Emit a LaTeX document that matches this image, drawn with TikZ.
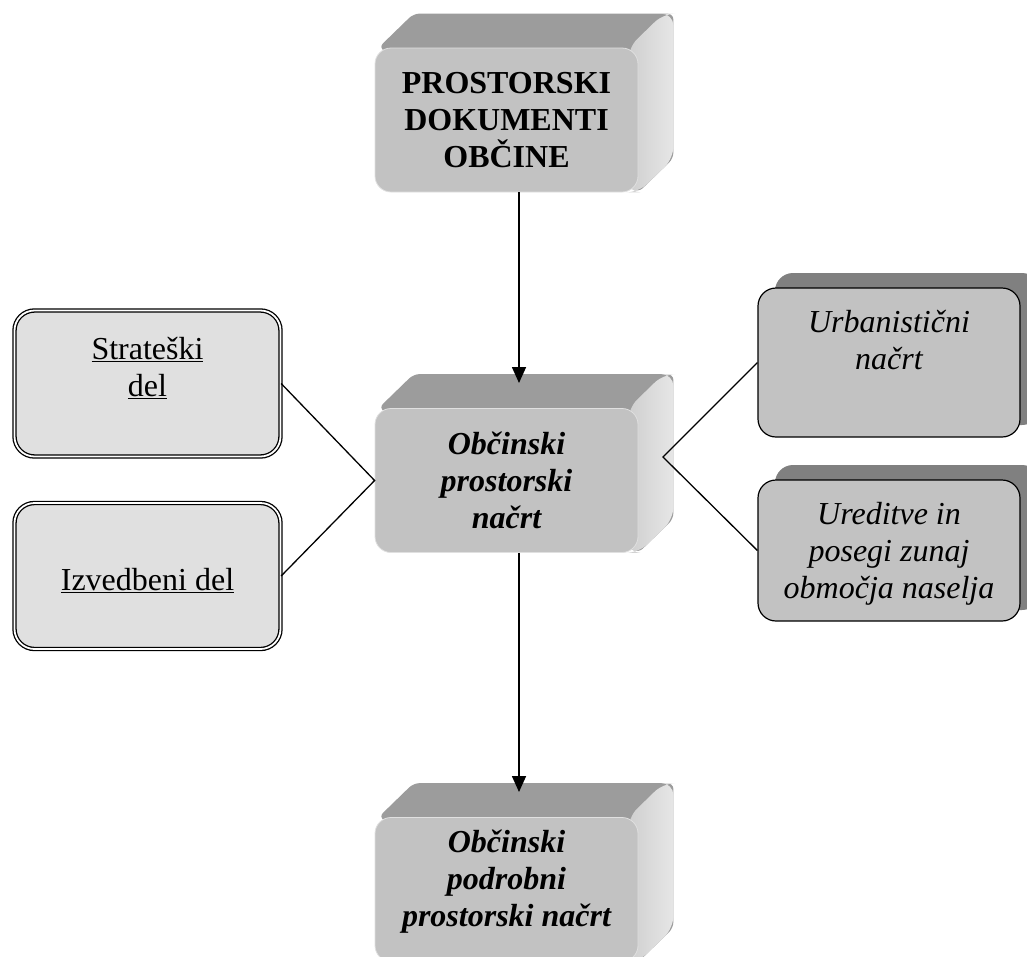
\documentclass[tikz,border=0pt]{standalone}
\usepackage{fontspec}
\setmainfont{Liberation Serif}
\usetikzlibrary{arrows.meta,calc,backgrounds}
\definecolor{frontgray}{HTML}{C2C2C2}
\definecolor{topgray}{HTML}{9C9C9C}
\definecolor{sideA}{HTML}{CFCFCF}
\definecolor{sideB}{HTML}{E6E6E6}
\definecolor{lightbox}{HTML}{E0E0E0}
\definecolor{shadowgray}{HTML}{808080}
\tikzset{
  txt/.style={font=\fontsize{32}{37}\selectfont, align=center, inner sep=0pt},
  txtit/.style={txt, font=\fontsize{32}{37}\selectfont\itshape},
  frontface/.style={fill=frontgray, draw=black!12, line width=0.8pt, rounded corners=16pt,
    minimum width=263pt, minimum height=144pt, inner sep=0pt, align=center,
    font=\fontsize{32}{37}\selectfont\bfseries},
  frontit/.style={frontface, font=\fontsize{32}{37}\selectfont\bfseries\itshape},
  dblbox/.style={fill=lightbox, draw=black, double=white, double distance=1.8pt,
    line width=1.3pt, rounded corners=20pt, minimum width=266pt, minimum height=146pt},
  plainbox/.style={fill=frontgray, draw=black, line width=1.2pt, rounded corners=18pt,
    minimum width=262pt},
  shadowbox/.style={fill=shadowgray, rounded corners=18pt},
  arr/.style={line width=1.6pt, -{Triangle[width=14pt,length=16pt]}},
  link/.style={line width=1.3pt},
}
\newcommand{\bevel}[1]{%
  \begin{scope}[on background layer]
    \fill[topgray, rounded corners=6pt] ($(#1.north west)+(4,0)$) -- ($(#1.north west)+(39,-34)$)
      -- ($(#1.north east)+(35,-34)$) -- ($(#1.south east)+(35,-34)$) -- (#1.south east) -- cycle;
    \shade[left color=sideA, right color=sideB, rounded corners=12pt] ($(#1.north east)+(-10,0)$)
      -- ($(#1.north east)+(25,-34)$) -- ($(#1.north east)+(35,-34)$)
      -- ($(#1.south east)+(35,-34)$) -- ($(#1.south east)+(0,0)$) -- ($(#1.south east)+(-10,0)$) -- cycle;
  \end{scope}}
\begin{document}
\begin{tikzpicture}[x=1pt,y=-1pt]
\useasboundingbox (0,0) rectangle (1027,956);

% central column
\node[frontface] (doc) at (506.5,120) {PROSTORSKI\\DOKUMENTI\\OBČINE};
\node[frontit] (opn) at (506.5,480.5) {Občinski\\prostorski\\načrt};
\node[frontit] (opp) at (506.5,889.5) {Občinski\\podrobni\\prostorski načrt\rule[-23pt]{0pt}{0pt}};
\bevel{doc}
\bevel{opn}
\bevel{opp}

% left boxes
\node[dblbox] (sd) at (147.5,383.5) {};
\node[txt] (sdt) at (147.5,368) {\underline{Strateški}\\\underline{del}};
\node[dblbox] (id) at (147.5,576) {};
\node[txt] (idt) at (147.5,581) {\underline{Izvedbeni del}};

% right boxes
\fill[shadowbox] (775,273) rectangle (1040,425);
\node[plainbox, minimum height=149pt] (ub) at (889,362.5) {};
\node[txtit] (ubt) at (889,340) {Urbanistični\\načrt};
\fill[shadowbox] (775,465) rectangle (1040,610);
\node[plainbox, minimum height=141pt] (ur) at (889,550.5) {};
\node[txtit] (urt) at (889,554) {Ureditve in\\posegi zunaj\\območja naselja};

% connectors
\coordinate (opnin) at (519,383);
\coordinate (oppin) at (519,792);
\coordinate (opnr) at (663,457);
\draw[arr] (doc.south -| opnin) -- (opnin);
\draw[arr] (opn.south -| oppin) -- (oppin);
\draw[link] (sd.east) -- (opn.west) -- (id.east);
\draw[link] (ub.west) -- (opnr) -- (ur.west);
\end{tikzpicture}
\end{document}
